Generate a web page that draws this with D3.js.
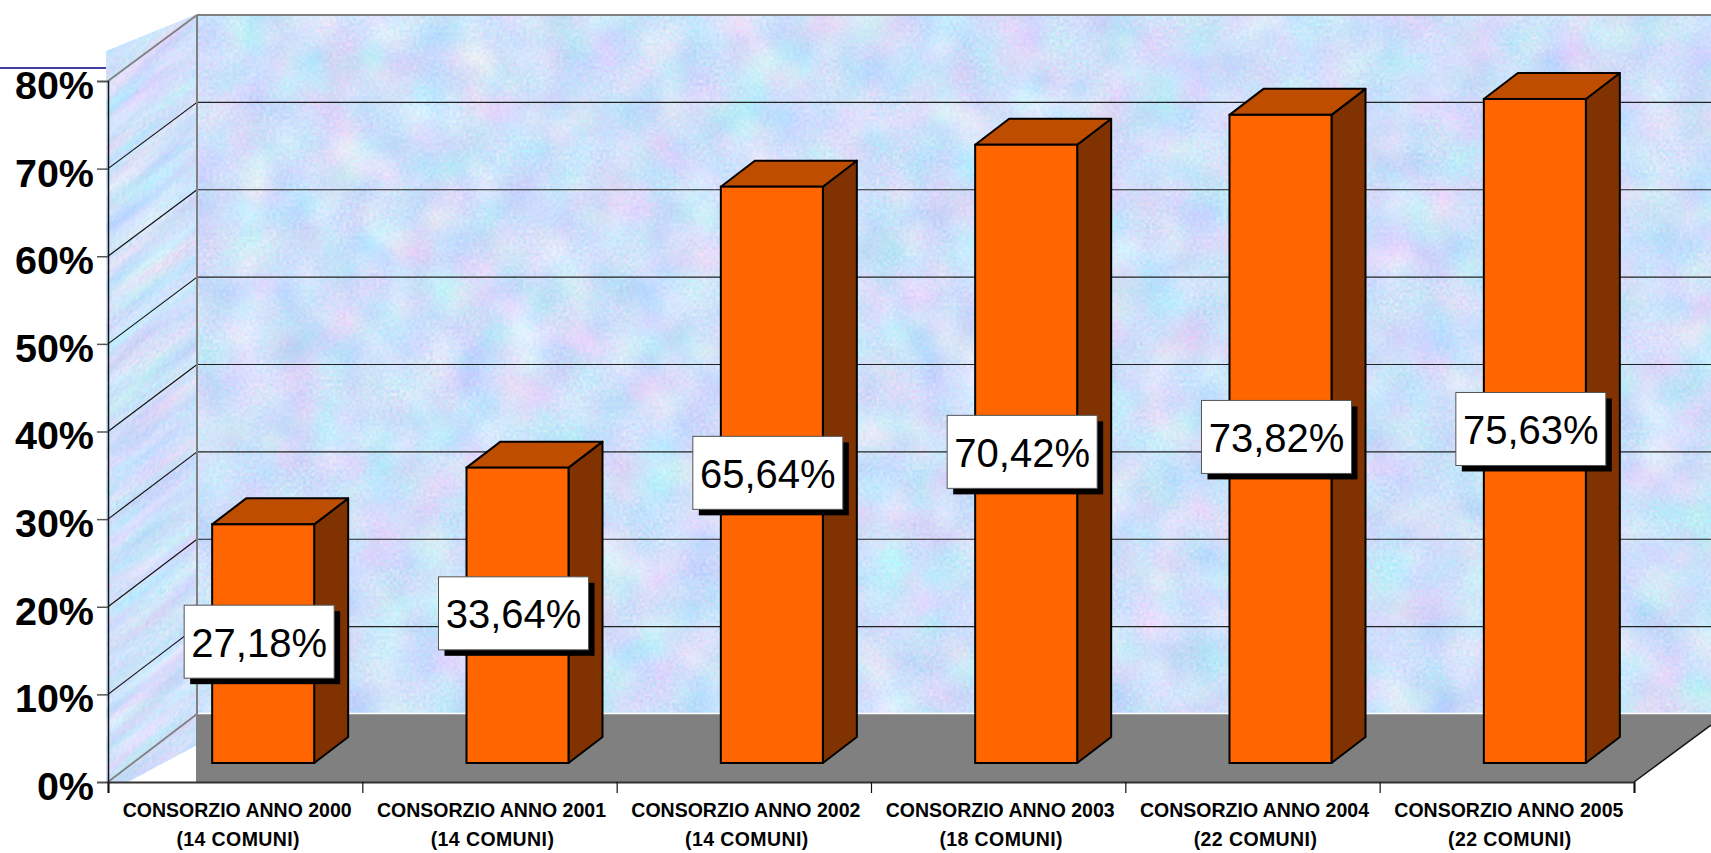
<!DOCTYPE html>
<html>
<head>
<meta charset="utf-8">
<title>Consorzio</title>
<script src="https://cdn.jsdelivr.net/npm/d3@7"></script>
<style>
  html, body { margin: 0; padding: 0; background: #fff; overflow: hidden; }
  text { font-family: "Liberation Sans", Arial, sans-serif; }
</style>
</head>
<body>
<div id="chart"></div>
<script>
const categories = ['CONSORZIO ANNO 2000', 'CONSORZIO ANNO 2001', 'CONSORZIO ANNO 2002', 'CONSORZIO ANNO 2003', 'CONSORZIO ANNO 2004', 'CONSORZIO ANNO 2005'];
const comuni = ['(14 COMUNI)', '(14 COMUNI)', '(14 COMUNI)', '(18 COMUNI)', '(22 COMUNI)', '(22 COMUNI)'];
const values = [27.18, 33.64, 65.64, 70.42, 73.82, 75.63];
const valueLabels = ['27,18%', '33,64%', '65,64%', '70,42%', '73,82%', '75,63%'];
const yTicks = [0, 10, 20, 30, 40, 50, 60, 70, 80];

const width = 1711, height = 853;
const x0 = 108, x1 = 1634, y0 = 782, wallX = 197, floorY = 714;
const barDx = 34, barDy = 26;         // depth of a bar

const y = d3.scaleLinear().domain([0, 80]).range([y0, 81]);           // front, on the axis
const yBack = d3.scaleLinear().domain([0, 80]).range([floorY, 15]);   // back wall
const yBar = d3.scaleLinear().domain([0, 80]).range([763, 60.6]);     // front of the bars
const xBand = d3.scaleBand().domain(categories).range([x0, x1]);
const xEdge = d3.scaleLinear().domain([0, 6]).range([x0, x1]);

const svg = d3.select('#chart').append('svg')
    .attr('width', width)
    .attr('height', height)
    .style('display', 'block');

const defs = svg.append('defs');

// marbled paper texture of the walls
function marble(id, seed, fx, fy) {
    const f = defs.append('filter').attr('id', id)
        .attr('x', 0).attr('y', 0).attr('width', 1).attr('height', 1)
        .attr('color-interpolation-filters', 'sRGB');
    f.append('feTurbulence').attr('type', 'fractalNoise')
        .attr('baseFrequency', fx + ' ' + fy).attr('numOctaves', 2).attr('seed', seed).attr('result', 'big');
    f.append('feTurbulence').attr('type', 'fractalNoise')
        .attr('baseFrequency', 0.3).attr('numOctaves', 1).attr('seed', seed + 3).attr('result', 'fine');
    f.append('feComposite').attr('in', 'big').attr('in2', 'fine')
        .attr('operator', 'arithmetic').attr('k1', 0).attr('k2', 0.6).attr('k3', 0.4).attr('k4', 0);
    f.append('feColorMatrix').attr('type', 'matrix')
        .attr('values', '0.5 0 0 0 0.56  0 0.3 0 0 0.73  0 0 0.12 0 0.92  0 0 0 0 1');
}
marble('wallTex', 7, 0.022, 0.022);
marble('sideTex', 11, 0.012, 0.05);

defs.append('clipPath').attr('id', 'sideClip').append('polygon')
    .attr('points', [[106, 51], [wallX, 14], [wallX, 745], [128, y0], [106, y0]].join(' '));

// left wall
svg.append('g').attr('clip-path', 'url(#sideClip)')
  .append('g').attr('transform', 'translate(106,0) skewY(-37)')
  .append('rect')
    .attr('x', 0).attr('y', 0).attr('width', 92).attr('height', 860)
    .attr('filter', 'url(#sideTex)');

// back wall
svg.append('rect')
    .attr('x', wallX).attr('y', yBack(80))
    .attr('width', width - wallX).attr('height', floorY - yBack(80))
    .attr('filter', 'url(#wallTex)');

// floor
const floorPts = [[wallX - 1, y0], [wallX - 1, floorY], [width, floorY], [width, floorY + 11], [x1, y0]];
svg.append('polygon').attr('points', floorPts.join(' ')).attr('fill', '#808080');
svg.append('line')
    .attr('x1', wallX).attr('x2', width)
    .attr('y1', floorY - 0.5).attr('y2', floorY - 0.5)
    .attr('stroke', '#fff').attr('stroke-width', 1.5);
svg.append('line')
    .attr('x1', x1).attr('y1', y0)
    .attr('x2', width).attr('y2', floorY + 11)
    .attr('stroke', '#111').attr('stroke-width', 1.5);

// gridlines, back wall and left wall
const grid = svg.append('g').selectAll('g').data(yTicks).enter().append('g');
grid.append('line')
    .attr('x1', x0).attr('y1', d => y(d))
    .attr('x2', wallX).attr('y2', d => yBack(d))
    .attr('stroke', d => (d === 0 || d === 80) ? '#808080' : '#111')
    .attr('stroke-width', d => (d === 0 || d === 80) ? 1.8 : 1.2);
grid.filter(d => d > 0).append('line')
    .attr('x1', wallX).attr('y1', d => yBack(d))
    .attr('x2', width).attr('y2', d => yBack(d))
    .attr('stroke', d => d === 80 ? '#808080' : '#222')
    .attr('stroke-width', d => d === 80 ? 2 : 1.2);

// vertical edge of the back wall
svg.append('line')
    .attr('x1', wallX).attr('x2', wallX)
    .attr('y1', yBack(80)).attr('y2', floorY)
    .attr('stroke', '#808080').attr('stroke-width', 2);

// navy rule at the top left
svg.append('line')
    .attr('x1', 0).attr('x2', 106).attr('y1', 68).attr('y2', 68)
    .attr('stroke', '#000080').attr('stroke-width', 1.5);

// axes
const yAxis = svg.append('g')
    .attr('transform', 'translate(' + x0 + ',0)')
    .call(d3.axisLeft(y).tickValues(yTicks).tickSize(11).tickPadding(3).tickFormat(d => d + '%'));
yAxis.select('.domain').attr('stroke', '#111').attr('stroke-width', 1.5);
yAxis.selectAll('.tick line').attr('stroke', '#555').attr('stroke-width', 1.5);
yAxis.selectAll('.tick text')
    .attr('dy', '0.44em')
    .attr('fill', '#000')
    .style('font-size', '39.5px')
    .style('font-weight', 'bold')
    .style('font-family', '"Liberation Sans", Arial, sans-serif');

const xAxis = svg.append('g')
    .attr('transform', 'translate(0,' + y0 + ')')
    .call(d3.axisBottom(xEdge).tickValues(d3.range(0, 7)).tickSize(11).tickFormat(''));
xAxis.select('.domain').attr('stroke', '#333').attr('stroke-width', 2.2);
xAxis.selectAll('.tick line').attr('stroke', '#111').attr('stroke-width', 1.2);

// bars: side, top, then front
const barWidth = 102;
const barLeft = d => xBand(d) + xBand.bandwidth() / 2 + 28 - barWidth / 2;
const bars = svg.append('g').selectAll('g')
    .data(categories.map((c, i) => ({ c: c, v: values[i], label: valueLabels[i] })))
    .enter().append('g');

bars.append('polygon')
    .attr('fill', '#803300').attr('stroke', '#000').attr('stroke-width', 2).attr('stroke-linejoin', 'round')
    .attr('points', d => {
        const r = barLeft(d.c) + barWidth;
        return [[r, yBar(d.v)], [r + barDx, yBar(d.v) - barDy], [r + barDx, yBar(0) - barDy], [r, yBar(0)]].join(' ');
    });
bars.append('polygon')
    .attr('fill', '#BF4D00').attr('stroke', '#000').attr('stroke-width', 2).attr('stroke-linejoin', 'round')
    .attr('points', d => {
        const l = barLeft(d.c), r = l + barWidth;
        return [[l, yBar(d.v)], [l + barDx, yBar(d.v) - barDy], [r + barDx, yBar(d.v) - barDy], [r, yBar(d.v)]].join(' ');
    });
bars.append('rect')
    .attr('fill', '#FF6600').attr('stroke', '#000').attr('stroke-width', 2)
    .attr('x', d => barLeft(d.c))
    .attr('y', d => yBar(d.v))
    .attr('width', barWidth)
    .attr('height', d => yBar(0) - yBar(d.v));

// value boxes with hard shadow
const boxW = 150, boxH = 73;
const boxX = d => xBand(d.c) + xBand.bandwidth() / 2 + 24 - boxW / 2;
const boxY = d => yBar(d.v / 2) - 2 - boxH / 2;
bars.append('rect')
    .attr('fill', '#000')
    .attr('x', d => boxX(d) + 6).attr('y', d => boxY(d) + 6)
    .attr('width', boxW).attr('height', boxH);
bars.append('rect')
    .attr('fill', '#fff').attr('stroke', '#555').attr('stroke-width', 1)
    .attr('x', d => boxX(d)).attr('y', d => boxY(d))
    .attr('width', boxW).attr('height', boxH);
bars.append('text')
    .attr('x', d => boxX(d) + boxW / 2)
    .attr('y', d => boxY(d) + boxH / 2 + 15)
    .attr('text-anchor', 'middle')
    .attr('fill', '#000')
    .style('font-size', '40px')
    .text(d => d.label);

// category labels
const catLabels = svg.append('g').selectAll('text')
    .data(categories.map((c, i) => ({ c: c, sub: comuni[i] })))
    .enter().append('text')
    .attr('text-anchor', 'middle')
    .attr('fill', '#000')
    .style('font-size', '19.5px')
    .style('font-weight', 'bold');
catLabels.append('tspan')
    .attr('x', d => xBand(d.c) + xBand.bandwidth() / 2 + 2)
    .attr('y', 817)
    .text(d => d.c);
catLabels.append('tspan')
    .attr('x', d => xBand(d.c) + xBand.bandwidth() / 2 + 3)
    .attr('y', 846)
    .style('letter-spacing', '0.4px')
    .text(d => d.sub);
</script>
</body>
</html>
